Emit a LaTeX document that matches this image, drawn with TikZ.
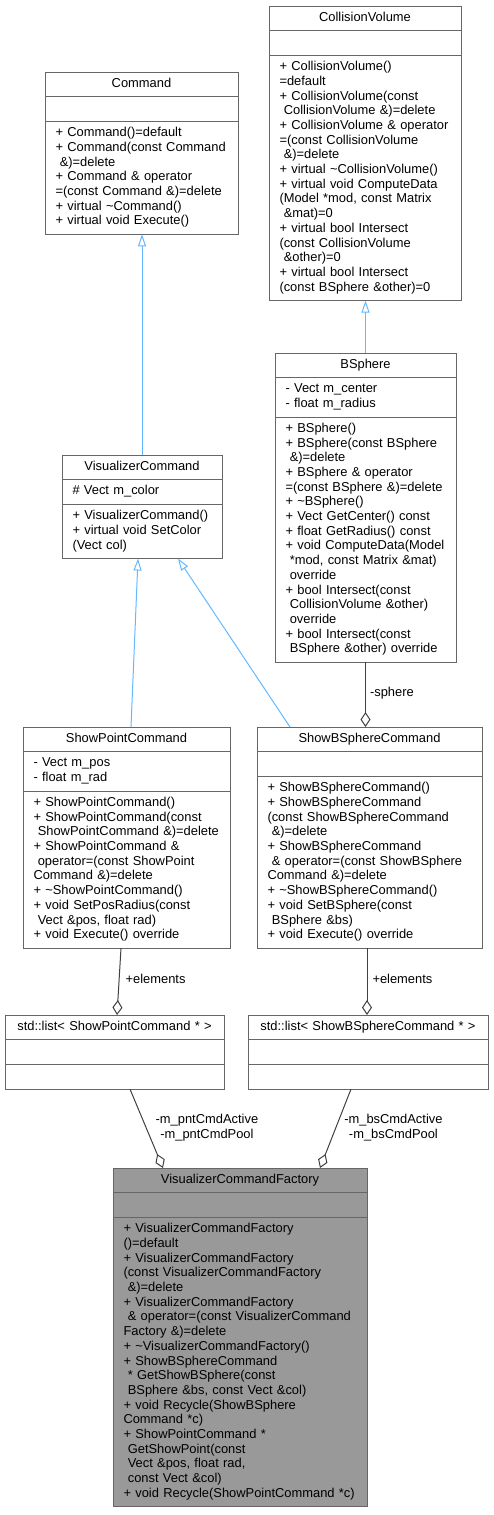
\documentclass[tikz,border=0pt]{standalone}
\usepackage{fontspec}
\setmainfont{Liberation Sans}
\usetikzlibrary{
  arrows.meta,
  positioning
}
\definecolor{boxLine}{HTML}{666666}
\definecolor{focusFill}{HTML}{999999}
\definecolor{inheritBlue}{HTML}{63B8FF}
\definecolor{aggrGrey}{HTML}{404040}
\newcommand{\umlfont}{\fontsize{12.9}{14.7}\selectfont}
\newcommand{\members}[1]{\begin{tabular}[t]{@{}l@{}}#1\end{tabular}}
\newcommand{\tld}{\textasciitilde{}}
\tikzset{
  cls/.style={
    draw=boxLine,
    fill=white,
    line width=1pt,
    outer sep=0pt,
    inner xsep=10.5pt,
    inner ysep=5pt,
    font=\umlfont,
    execute at begin node=\strut
  },
  umltitle/.style={cls, text width=#1, align=center},
  umlpart/.style={cls, text width=#1, align=left},
  inherit/.style={-{Triangle[open, length=12pt, width=8pt]}, line width=1pt, draw=inheritBlue},
  aggr/.style={-{Diamond[open, length=15pt, width=10pt]}, line width=1pt, draw=aggrGrey},
  lbl/.style={font=\umlfont, inner sep=1pt, align=center}
}

\begin{document}
\begin{tikzpicture}[x=1pt, y=-1pt]
\useasboundingbox (0,0) rectangle (493,1515);

% --- CollisionVolume ---
\node[umltitle=171pt, anchor=north west] (cvol) at (269,6) {CollisionVolume};
\node[umlpart=171pt, below=0pt of cvol] (cvolAttr) {};
\node[umlpart=171pt, below=0pt of cvolAttr] (cvolOps) {\members{
  + CollisionVolume()\\
  =default\\
  + CollisionVolume(const\\
  \ CollisionVolume \&)=delete\\
  + CollisionVolume \& operator\\
  =(const CollisionVolume\\
  \ \&)=delete\\
  + virtual \tld CollisionVolume()\\
  + virtual void ComputeData\\
  (Model *mod, const Matrix\\
  \ \&mat)=0\\
  + virtual bool Intersect\\
  (const CollisionVolume\\
  \ \&other)=0\\
  + virtual bool Intersect\\
  (const BSphere \&other)=0}};

% --- Command ---
\node[umltitle=172pt, anchor=north west] (command) at (45,72) {Command};
\node[umlpart=172pt, below=0pt of command] (commandAttr) {};
\node[umlpart=172pt, below=0pt of commandAttr] (commandOps) {\members{
  + Command()=default\\
  + Command(const Command\\
  \ \&)=delete\\
  + Command \& operator\\
  =(const Command \&)=delete\\
  + virtual \tld Command()\\
  + virtual void Execute()}};

% --- BSphere ---
\node[umltitle=160pt, anchor=north west] (bsphere) at (275,353) {BSphere};
\node[umlpart=160pt, below=0pt of bsphere] (bsphereAttr) {\members{
  - Vect m\_center\\
  - float m\_radius}};
\node[umlpart=160pt, below=0pt of bsphereAttr] (bsphereOps) {\members{
  + BSphere()\\
  + BSphere(const BSphere\\
  \ \&)=delete\\
  + BSphere \& operator\\
  =(const BSphere \&)=delete\\
  + \tld BSphere()\\
  + Vect GetCenter() const\\
  + float GetRadius() const\\
  + void ComputeData(Model\\
  \ *mod, const Matrix \&mat)\\
  \ override\\
  + bool Intersect(const\\
  \ CollisionVolume \&other)\\
  \ override\\
  + bool Intersect(const\\
  \ BSphere \&other) override}};

% --- VisualizerCommand ---
\node[umltitle=139pt, anchor=north west] (vcmd) at (62,455) {VisualizerCommand};
\node[umlpart=139pt, below=0pt of vcmd] (vcmdAttr) {\members{\# Vect m\_color}};
\node[umlpart=139pt, below=0pt of vcmdAttr] (vcmdOps) {\members{
  + VisualizerCommand()\\
  + virtual void SetColor\\
  (Vect col)}};

% --- ShowPointCommand ---
\node[umltitle=186pt, anchor=north west] (spcmd) at (23,727) {ShowPointCommand};
\node[umlpart=186pt, below=0pt of spcmd] (spcmdAttr) {\members{
  - Vect m\_pos\\
  - float m\_rad}};
\node[umlpart=186pt, below=0pt of spcmdAttr] (spcmdOps) {\members{
  + ShowPointCommand()\\
  + ShowPointCommand(const\\
  \ ShowPointCommand \&)=delete\\
  + ShowPointCommand \&\\
  \ operator=(const ShowPoint\\
  Command \&)=delete\\
  + \tld ShowPointCommand()\\
  + void SetPosRadius(const\\
  \ Vect \&pos, float rad)\\
  + void Execute() override}};

% --- ShowBSphereCommand ---
\node[umltitle=204pt, anchor=north west] (sbcmd) at (257,727) {ShowBSphereCommand};
\node[umlpart=204pt, below=0pt of sbcmd] (sbcmdAttr) {};
\node[umlpart=204pt, below=0pt of sbcmdAttr] (sbcmdOps) {\members{
  + ShowBSphereCommand()\\
  + ShowBSphereCommand\\
  (const ShowBSphereCommand\\
  \ \&)=delete\\
  + ShowBSphereCommand\\
  \ \& operator=(const ShowBSphere\\
  Command \&)=delete\\
  + \tld ShowBSphereCommand()\\
  + void SetBSphere(const\\
  \ BSphere \&bs)\\
  + void Execute() override}};

% --- list containers ---
\node[umltitle=198pt, anchor=north west] (plist) at (5,1015) {std::list< ShowPointCommand * >};
\node[umlpart=198pt, below=0pt of plist] (plistAttr) {};
\node[umlpart=198pt, below=0pt of plistAttr] (plistOps) {};

\node[umltitle=219pt, anchor=north west] (blist) at (248,1015) {std::list< ShowBSphereCommand * >};
\node[umlpart=219pt, below=0pt of blist] (blistAttr) {};
\node[umlpart=219pt, below=0pt of blistAttr] (blistOps) {};

% --- VisualizerCommandFactory ---
\node[umltitle=233pt, fill=focusFill, anchor=north west] (factory) at (113,1168) {VisualizerCommandFactory};
\node[umlpart=233pt, fill=focusFill, below=0pt of factory] (factoryAttr) {};
\node[umlpart=233pt, fill=focusFill, below=0pt of factoryAttr] (factoryOps) {\members{
  + VisualizerCommandFactory\\
  ()=default\\
  + VisualizerCommandFactory\\
  (const VisualizerCommandFactory\\
  \ \&)=delete\\
  + VisualizerCommandFactory\\
  \ \& operator=(const VisualizerCommand\\
  Factory \&)=delete\\
  + \tld VisualizerCommandFactory()\\
  + ShowBSphereCommand\\
  \ * GetShowBSphere(const\\
  \ BSphere \&bs, const Vect \&col)\\
  + void Recycle(ShowBSphere\\
  Command *c)\\
  + ShowPointCommand *\\
  \ GetShowPoint(const\\
  \ Vect \&pos, float rad,\\
  \ const Vect \&col)\\
  + void Recycle(ShowPointCommand *c)}};

% --- Inheritance ---
\draw[inherit] (bsphere.north) -- (bsphere.north |- cvolOps.south);
\draw[inherit] (vcmd.north) -- (vcmd.north |- commandOps.south);
\draw[inherit] ([xshift=4.5pt]spcmd.north) -- ([xshift=-4pt]vcmdOps.south);
\draw[inherit] ([xshift=-79.5pt]sbcmd.north) -- ([xshift=36pt]vcmdOps.south);

% --- Aggregation ---
\draw[aggr] (bsphereOps.south) -- (bsphereOps.south |- sbcmd.north)
  node[lbl, pos=0.47, right=3pt] {-sphere};
\draw[aggr] ([xshift=-5.5pt]spcmdOps.south) -- ([xshift=2.5pt]plist.north)
  node[lbl, pos=0.46, right=5pt] {+elements};
\draw[aggr] ([xshift=-2.5pt]sbcmdOps.south) -- ([xshift=-1pt]blist.north)
  node[lbl, pos=0.46, right=4pt] {+elements};
\draw[aggr] ([xshift=15.5pt]plistOps.south) -- ([xshift=-77pt]factory.north)
  node[lbl, pos=0.49, right=8pt] {-m\_pntCmdActive\\-m\_pntCmdPool};
\draw[aggr] ([xshift=-17pt]blistOps.south) -- ([xshift=80pt]factory.north)
  node[lbl, pos=0.49, right=7pt] {-m\_bsCmdActive\\-m\_bsCmdPool};

\end{tikzpicture}
\end{document}
